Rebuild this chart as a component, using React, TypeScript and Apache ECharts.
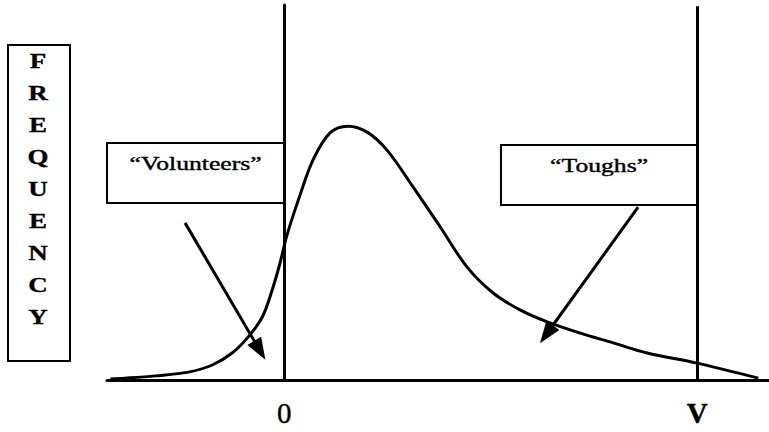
import React, { useEffect, useRef } from "react";
import * as echarts from "echarts";

// Distribution of values along the scale: 0 marks the lower cut-off, V the upper one.
const curveX = [
  -4.21, -3.85, -3.12, -2.32, -1.74, -1.26, -0.87, -0.53, -0.29, -0.1, 0.07, 0.39, 0.7, 1.11,
  1.55, 2.01, 2.49, 3.12, 3.78, 4.43, 5.06, 5.71, 6.37, 7.17, 7.97, 8.79, 10.0, 11.48,
];
const curveY = [
  0.3, 0.5, 1.1, 2.1, 4.0, 7.2, 11.5, 16.8, 24.0, 31.2, 38.7, 49.5, 58.7, 65.9, 67.7, 66.1,
  61.3, 51.5, 40.8, 30.1, 23.2, 18.7, 15.5, 12.5, 9.9, 7.2, 4.5, 0.5,
];

const xRange = [-4.29, 11.74];
const yRange = [0, 100];

// Reference values on the horizontal scale and their labels
const markValues = [0, 10];
const markLabels = ["0", "V"];
const markLineTops = [94.7, 99.7];

// Annotation boxes: [xFrom, xTo, yFrom, yTo] in data units
const boxNames = ["“Volunteers”", "“Toughs”"];
const volunteersBox = [-4.29, 0, 47.2, 63.2];
const toughsBox = [5.25, 10, 46.7, 62.7];

// Arrows from each box down to the tail it names: [[xFrom, yFrom], [xTo, yTo]]
const volunteersArrow = [
  [-2.4, 41.9],
  [-0.59, 7.9],
];
const toughsArrow = [
  [8.57, 46.1],
  [6.35, 12.2],
];

const axisTitle = "FREQUENCY";

const SERIF = "Liberation Serif";
// The lettering is set wide, as in a horizontally stretched typeface
const WIDE = 1.35;

export default function App() {
  const ref = useRef<HTMLDivElement>(null);

  useEffect(() => {
    if (!ref.current) return;
    const chart = echarts.init(ref.current, null, { renderer: "svg" });

    const boxes = [volunteersBox, toughsBox];
    const arrows = [volunteersArrow, toughsArrow];

    chart.setOption({
      animation: false,
      backgroundColor: "#ffffff",
      grid: { left: 107, right: 0, top: 5, bottom: 52 },
      xAxis: {
        type: "value",
        min: xRange[0],
        max: xRange[1],
        splitLine: { show: false },
        axisTick: { show: false },
        axisLine: { show: true, lineStyle: { color: "#000", width: 3 } },
        axisLabel: {
          customValues: markValues,
          margin: 18,
          color: "#000",
          fontFamily: SERIF,
          fontSize: 29,
          textBorderColor: "#000",
          textBorderWidth: 0.4,
          formatter: (v: number) => {
            const i = markValues.indexOf(v);
            return i === 1 ? `{b|${markLabels[i]}}` : markLabels[i] ?? "";
          },
          rich: {
            b: {
              fontFamily: SERIF,
              fontSize: 29,
              fontWeight: "bold",
              color: "#000",
              textBorderColor: "#000",
              textBorderWidth: 0.4,
            },
          },
        },
      },
      yAxis: {
        type: "value",
        min: yRange[0],
        max: yRange[1],
        splitLine: { show: false },
        axisTick: { show: false },
        axisLabel: { show: false },
        axisLine: { show: true, lineStyle: { color: "#000", width: 3 } },
      },
      series: [
        {
          type: "line",
          data: curveX.map((x, i) => [x, curveY[i]]),
          smooth: 0.35,
          symbol: "none",
          lineStyle: { color: "#000", width: 3 },
          markArea: {
            silent: true,
            itemStyle: { color: "#fff", borderColor: "#000", borderWidth: 2 },
            label: { show: false },
            data: boxes.map((b, i) => [
              { name: boxNames[i], xAxis: b[0], yAxis: b[3] },
              { xAxis: b[1], yAxis: b[2] },
            ]),
          },
          markLine: {
            silent: true,
            symbol: "none",
            label: { show: false },
            lineStyle: { color: "#000", width: 3, type: "solid" },
            data: [
              ...markValues.map((v, i) => [
                { coord: [v, 0], symbol: "none" },
                { coord: [v, markLineTops[i]], symbol: "none" },
              ]),
              ...arrows.map((a) => [
                { coord: a[0], symbol: "none" },
                { coord: a[1], symbol: "triangle", symbolSize: [16, 22] },
              ]),
            ],
          },
        },
      ],
    });

    // Box captions, anchored to the top centre of each box
    const captions = boxes.map((b, i) => {
      const [px, py] = chart.convertToPixel({ gridIndex: 0 }, [(b[0] + b[1]) / 2, b[3]]) as number[];
      return {
        type: "text",
        id: `caption-${i}`,
        x: px,
        y: py + 11,
        scaleX: WIDE,
        z: 20,
        style: {
          text: boxNames[i],
          fill: "#000",
          stroke: "#000",
          lineWidth: 0.4,
          fontFamily: SERIF,
          fontSize: 19,
          align: "center",
          verticalAlign: "top",
        },
      };
    });

    chart.setOption({
      graphic: [
        {
          type: "rect",
          id: "title-box",
          left: 7,
          top: 44,
          shape: { width: 62, height: 316 },
          style: { fill: "#fff", stroke: "#000", lineWidth: 2 },
        },
        {
          type: "text",
          id: "title",
          x: 38,
          y: 45,
          scaleX: WIDE,
          style: {
            text: axisTitle.split("").join("\n"),
            fill: "#000",
            stroke: "#000",
            lineWidth: 0.3,
            fontFamily: SERIF,
            fontSize: 20,
            fontWeight: "bold",
            lineHeight: 32,
            align: "center",
            verticalAlign: "top",
          },
        },
        ...captions,
      ],
    });

    return () => chart.dispose();
  }, []);

  return <div ref={ref} style={{ width: 769, height: 432, position: "absolute", left: 0, top: 0 }} />;
}
